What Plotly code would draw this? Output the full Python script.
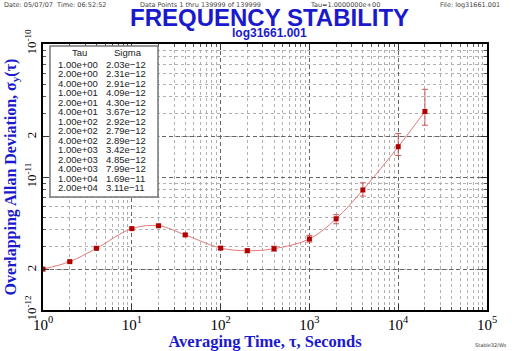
import plotly.graph_objects as go

tau = [1, 2, 4, 10, 20, 40, 100, 200, 400, 1000, 2000, 4000, 10000, 20000]
sigma = [2.03e-12, 2.31e-12, 2.91e-12, 4.09e-12, 4.30e-12, 3.67e-12, 2.92e-12,
         2.79e-12, 2.89e-12, 3.42e-12, 4.85e-12, 7.99e-12, 1.69e-11, 3.11e-11]
err_plus = [0.01e-12, 0.02e-12, 0.03e-12, 0.05e-12, 0.07e-12, 0.07e-12, 0.07e-12,
            0.09e-12, 0.13e-12, 0.22e-12, 0.36e-12, 1.05e-12, 0.43e-11, 1.45e-11]
err_minus = [0.01e-12, 0.02e-12, 0.03e-12, 0.05e-12, 0.07e-12, 0.07e-12, 0.07e-12,
             0.09e-12, 0.12e-12, 0.18e-12, 0.40e-12, 0.80e-12, 0.24e-11, 0.66e-11]

x_tickvals = [1, 10, 100, 1000, 10000, 100000]
x_ticktext = ["10<sup>0</sup>", "10<sup>1</sup>", "10<sup>2</sup>", "10<sup>3</sup>",
              "10<sup>4</sup>", "10<sup>5</sup>"]
y_tickvals = [1e-12, 2e-12, 1e-11, 2e-11, 1e-10]
y_ticktext = ["10<sup>-12</sup>", "2", "10<sup>-11</sup>", "2", "10<sup>-10</sup>"]

BLUE = "#1a1acc"
W, H = 512, 351
L, R, T, B = 43, 487, 44, 310


def px(x):
    return (x - L) / (R - L)


def py(y):
    return (B - y) / (B - T)


x_minor = [m * 10 ** d for d in range(0, 5) for m in range(2, 10)]
y_minor = [m * 10 ** d for d in (-12, -11) for m in range(2, 10)]

fig = go.Figure()
fig.add_trace(go.Scatter(
    x=tau, y=sigma, mode="lines+markers",
    line=dict(color="#e07a7a", width=1, shape="spline"),
    marker=dict(color="#b00000", size=5, symbol="square"),
    error_y=dict(type="data", symmetric=False, array=err_plus, arrayminus=err_minus,
                 color="#d05a5a", thickness=1, width=3),
    showlegend=False,
))

axis_common = dict(
    showline=True, linecolor="black", linewidth=1.5, mirror="allticks",
    ticks="inside", ticklen=6, tickcolor="#333",
    showgrid=True, gridcolor="#666", griddash="4px,3px", gridwidth=1,
    zeroline=False, automargin=False,
)

fig.update_xaxes(
    type="log", range=[0, 5], tickmode="array", tickvals=x_tickvals, ticktext=x_ticktext,
    tickfont=dict(family="Liberation Serif", size=15, color="black"),
    minor=dict(tickmode="array", tickvals=x_minor, ticks="inside", ticklen=3,
               tickcolor="#555", showgrid=True, gridcolor="#b0b0b0", griddash="dot"),
    title=dict(text="Averaging Time, τ, Seconds", standoff=0,
               font=dict(family="Liberation Serif", size=16.5, color=BLUE, weight="bold")),
    **axis_common,
)
fig.update_yaxes(
    type="log", range=[-12, -10], tickmode="array", tickvals=y_tickvals, ticktext=y_ticktext,
    tickangle=-90,
    tickfont=dict(family="Liberation Serif", size=13, color="black"),
    minor=dict(tickmode="array", tickvals=y_minor, ticks="inside", ticklen=3,
               tickcolor="#555", showgrid=True, gridcolor="#b0b0b0", griddash="dot"),
    title=dict(text="Overlapping Allan Deviation, σ<sub>y</sub>(τ)", standoff=2,
               font=dict(family="Liberation Serif", size=16, color=BLUE, weight="bold")),
    **axis_common,
)

annotations = []
hdr_font = dict(family="DejaVu Sans", size=6.5, color="#444")
for txt, x, anchor in [("Date: 05/07/07  Time: 06:52:52", 2, "left"),
                       ("Data Points 1 thru 139999 of 139999", 138, "left"),
                       ("Tau=1.0000000e+00", 308, "left"),
                       ("File: log31661.001", 502, "right")]:
    annotations.append(dict(text=txt, x=px(x), y=py(5), xref="paper", yref="paper",
                            xanchor=anchor, yanchor="middle", showarrow=False, font=hdr_font))
annotations.append(dict(text="<b>FREQUENCY STABILITY</b>", x=px(269), y=py(17.5),
                        xref="paper", yref="paper", xanchor="center", yanchor="middle",
                        showarrow=False,
                        font=dict(family="Liberation Sans", size=24, color=BLUE)))
annotations.append(dict(text="<b>log31661.001</b>", x=px(269), y=py(32.5),
                        xref="paper", yref="paper", xanchor="center", yanchor="middle",
                        showarrow=False,
                        font=dict(family="Liberation Sans", size=12, color=BLUE)))
annotations.append(dict(text="Stable32/Ws", x=px(509), y=py(345),
                        xref="paper", yref="paper", xanchor="right", yanchor="middle",
                        showarrow=False, font=dict(family="DejaVu Sans", size=5, color="#333")))

# table
tab_font = dict(family="Liberation Sans", size=9.5, color="#222")
annotations.append(dict(text="Tau", x=px(79), y=py(52), xref="paper", yref="paper",
                        xanchor="center", yanchor="middle", showarrow=False, font=tab_font))
annotations.append(dict(text="Sigma", x=px(128), y=py(52), xref="paper", yref="paper",
                        xanchor="center", yanchor="middle", showarrow=False, font=tab_font))
for i, (t, s) in enumerate(zip(tau, sigma)):
    yy = 64 + i * 9.5
    annotations.append(dict(text=f"{t:.2e}", x=px(56), y=py(yy), xref="paper",
                            yref="paper", xanchor="left", yanchor="middle",
                            showarrow=False, font=tab_font))
    annotations.append(dict(text=f"{s:.2e}".replace("-", "−"), x=px(104), y=py(yy),
                            xref="paper", yref="paper", xanchor="left",
                            yanchor="middle", showarrow=False, font=tab_font))

fig.add_shape(type="rect", xref="paper", yref="paper",
              x0=px(50), x1=px(158), y0=py(197), y1=py(46),
              line=dict(color="#777", width=1.5), fillcolor="white", layer="above")

fig.update_layout(
    width=W, height=H,
    margin=dict(l=L, r=W - R, t=T, b=H - B, autoexpand=False),
    paper_bgcolor="white", plot_bgcolor="white",
    annotations=annotations,
)

fig.write_html("out.html")
